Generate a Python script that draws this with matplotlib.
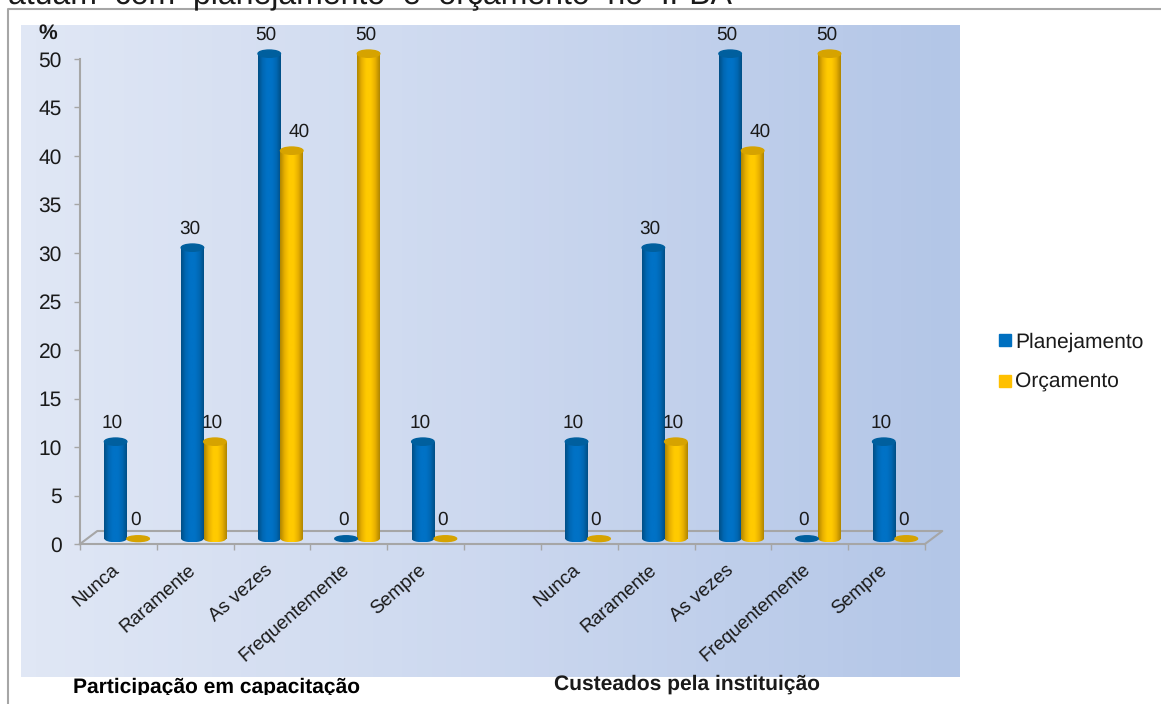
import numpy as np
import matplotlib
matplotlib.use("Agg")
import matplotlib.pyplot as plt
from matplotlib.colors import LinearSegmentedColormap
from matplotlib.lines import Line2D
from matplotlib.patches import Ellipse
from matplotlib.transforms import Bbox, ScaledTranslation

FIG_FILE = "out.png"
W, H = 1161, 704

categories = ["Nunca", "Raramente", "As vezes", "Frequentemente", "Sempre"]
planejamento = [10, 30, 50, 0, 10]
orcamento = [0, 10, 40, 50, 0]
# same values in both groups
planejamento_2 = [10, 30, 50, 0, 10]
orcamento_2 = [0, 10, 40, 50, 0]
group_titles = ["Participação em capacitação", "Custeados pela instituição"]
series_names = ["Planejamento", "Orçamento"]
y_ticks = [0, 5, 10, 15, 20, 25, 30, 35, 40, 45, 50]

BLUE = "#0070C0"
YELLOW = "#FFC000"

plt.rcParams['font.family'] = ['Liberation Sans', 'DejaVu Sans']
plt.rcParams['text.hinting'] = 'none'
plt.rcParams['text.hinting_factor'] = 1

blue_map = LinearSegmentedColormap.from_list("b", ["#004F86", "#0068B4", "#0072C6", "#0072C6", "#0068B4", "#004F86"])
yellow_map = LinearSegmentedColormap.from_list("y", ["#B08600", "#E8B000", "#FFCA00", "#FFCA00", "#E8B000", "#B08600"])
ramp = np.linspace(0, 1, 64).reshape(1, -1)


def px_box(left, top, right, bottom):
    return [left / W, 1 - bottom / H, (right - left) / W, (bottom - top) / H]


fig = plt.figure(figsize=(W / 100, H / 100), dpi=100, facecolor="white")

# background panel with the horizontal gradient
bg = fig.add_axes(px_box(21, 25, 960, 677))
panel_map = LinearSegmentedColormap.from_list("p", ["#E0E7F5", "#CCD8EF", "#B3C6E7"])
bg.imshow(ramp, cmap=panel_map, aspect="auto")
bg.axis("off")

# frame of the page around the chart
fig.add_artist(Line2D([8 / W, 8 / W, 1], [0, 1 - 9 / H, 1 - 9 / H], color="#A6A6A6", lw=1.5))

ax = fig.add_axes(px_box(80, 59, 925, 544))
ax.patch.set_alpha(0)

BAR_W = 0.293
SHIFT = 0.11
BASE = 0.55
ELL_H = 0.75
FLOOR_X = 0.225
FLOOR_Y = 1.34


def draw_bar(x, value, cmap, top_color):
    if value == 0:
        ax.add_patch(Ellipse((x, BASE), BAR_W, ELL_H * 0.8, color=top_color, clip_on=False, zorder=4))
        return
    bar = ax.bar(x, value, BAR_W, bottom=BASE, color="none", zorder=3)[0]
    im = ax.imshow(ramp, cmap=cmap, aspect="auto", zorder=3,
                   extent=(x - BAR_W / 2, x + BAR_W / 2, BASE, BASE + value))
    im.set_clip_path(bar)
    low = Ellipse((x, BASE), BAR_W, ELL_H, color="none", zorder=3)
    ax.add_patch(low)
    im2 = ax.imshow(ramp, cmap=cmap, aspect="auto", zorder=3,
                    extent=(x - BAR_W / 2, x + BAR_W / 2, BASE - ELL_H / 2, BASE + ELL_H / 2))
    im2.set_clip_path(low)
    ax.add_patch(Ellipse((x, BASE + value), BAR_W, ELL_H, color=top_color, clip_on=False, zorder=4))


def label_bar(x, value, dx=-3):
    ax.annotate(str(value), (x, value + BASE), xytext=(dx * 0.72, 13.5), textcoords="offset points",
                ha="center", va="center", fontsize=13.5, color="#1A1A1A", zorder=5, annotation_clip=False)


# floor of the 3d look
ax.plot([-0.5, -0.5 + FLOOR_X, 10.5 + FLOOR_X, 10.5], [0, FLOOR_Y, FLOOR_Y, 0],
        color="#A6A6A6", lw=1.5, clip_on=False, zorder=1)

groups = [(0, planejamento, orcamento), (6, planejamento_2, orcamento_2)]
for start, plan, orc in groups:
    for i in range(len(categories)):
        c = start + i + SHIFT
        x1 = c - BAR_W / 2
        x2 = c + BAR_W / 2
        draw_bar(x1, plan[i], blue_map, "#005F9E")
        draw_bar(x2, orc[i], yellow_map, "#D6A300")
        label_bar(x1, plan[i])
        # the 40 label sits off to the right in the original
        label_bar(x2, orc[i], dx=7 if orc[i] == 40 else -3)

ax.set_xlim(-0.5, 10.5)
ax.set_ylim(0, 50)

for side in ["top", "right"]:
    ax.spines[side].set_visible(False)
for side in ["left", "bottom"]:
    ax.spines[side].set_color("#A6A6A6")
    ax.spines[side].set_linewidth(1.5)

ax.set_yticks(y_ticks)
ax.tick_params(axis="y", labelsize=15, length=4, width=1, color="#A6A6A6", pad=9, labelcolor="#1A1A1A")
ax.set_xticks(np.arange(-0.5, 11, 1))
ax.tick_params(axis="x", which="major", length=4, width=1, color="#A6A6A6", labelbottom=False)

centers = [i for i in range(5)] + [6 + i for i in range(5)]
ax.set_xticks(centers, minor=True)
ax.set_xticklabels(categories + categories, minor=True, rotation=41, ha="right", va="top",
                   rotation_mode="anchor", fontsize=14, color="#1A1A1A")
ax.tick_params(axis="x", which="minor", length=0, pad=12)
# rotated labels end a little left of the category centre
nudge = ScaledTranslation(-8 / 100, 0, fig.dpi_scale_trans)
for lab in ax.get_xticklabels(minor=True):
    lab.set_transform(lab.get_transform() + nudge)

fig.text(48 / W, 1 - 33 / H, "%", fontsize=15, fontweight="bold", ha="center", va="center", color="#1A1A1A")

# group captions, the first one is cut off at the bottom in the original
t1 = fig.text(73 / W, 1 - 693 / H, group_titles[0], fontsize=15.2, fontweight="bold", ha="left",
              va="baseline", color="black")
t1.set_clip_box(Bbox([[0, 704 - 695], [W, H]]))
t1.set_clip_on(True)
fig.text(554 / W, 1 - 690 / H, group_titles[1], fontsize=15.3, fontweight="bold", ha="left",
         va="baseline", color="#1A1A1A")

# page text above the chart, only its lower part is visible
fig.text(8 / W, 1 - 3 / H, "atuam  com  planejamento  e  orçamento  no  IFBA", fontsize=23.3,
         ha="left", va="baseline", color="#1A1A1A")

handles = [Line2D([], [], ls="", marker="s", ms=8, color=BLUE),
           Line2D([], [], ls="", marker="s", ms=8, color=YELLOW)]
leg = fig.legend(handles, series_names, loc="upper left", bbox_to_anchor=(997 / W, 1 - 332 / H),
                 frameon=False, fontsize=15.2, labelspacing=1.0, handlelength=0.8, handletextpad=0.05,
                 borderpad=0, borderaxespad=0)
for text in leg.get_texts():
    text.set_color("#1A1A1A")

fig.savefig(FIG_FILE, dpi=100)
